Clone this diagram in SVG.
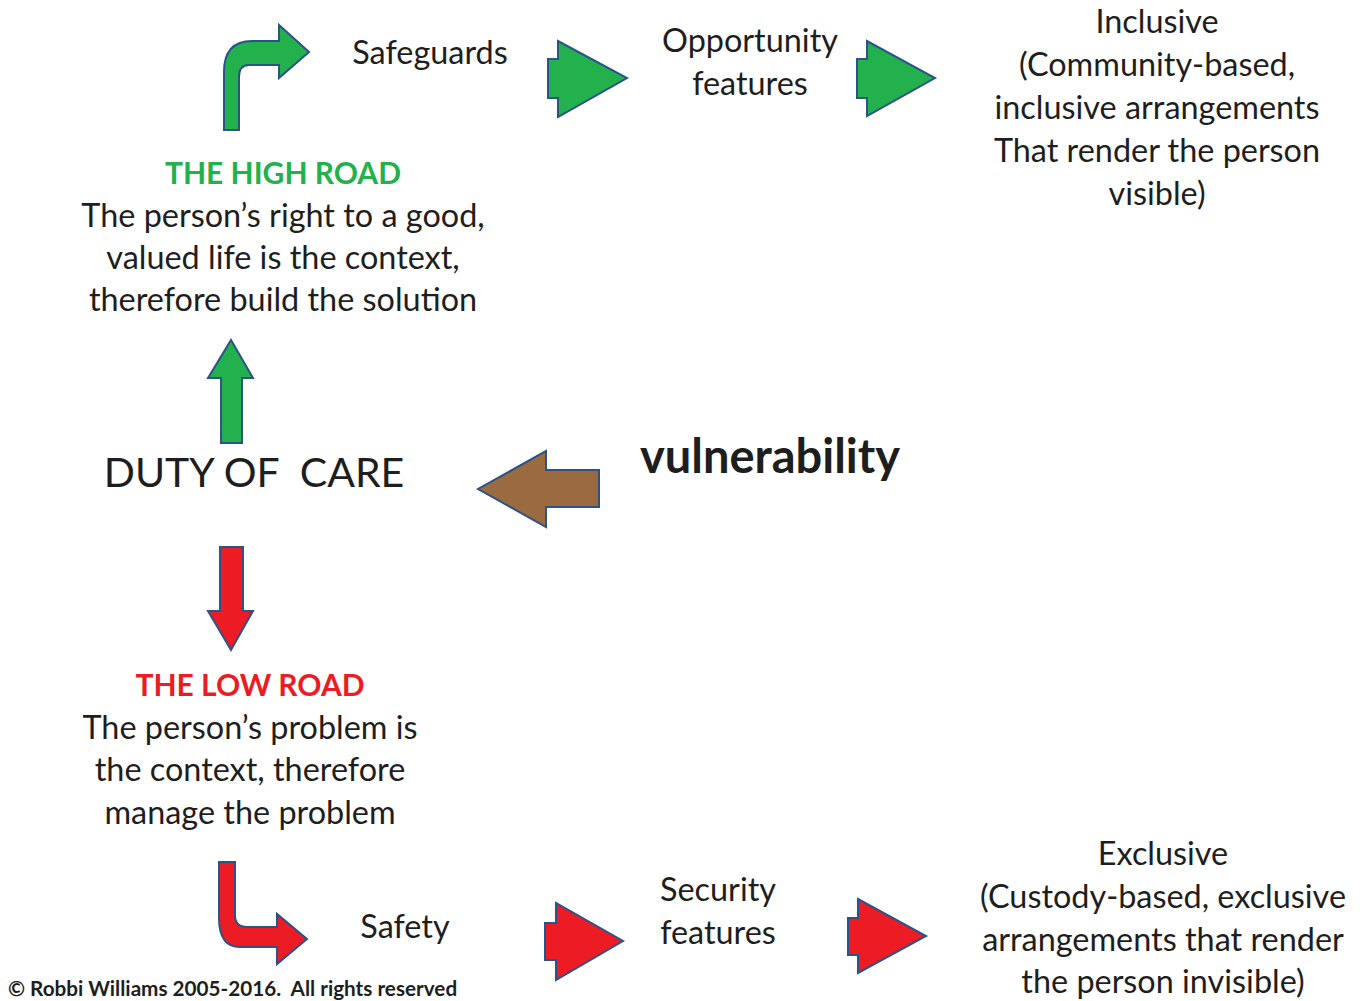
<svg xmlns="http://www.w3.org/2000/svg" width="1365" height="1001" viewBox="0 0 1365 1001">
  <style>
    .t { font-family: Lato, "Open Sans", "Liberation Sans", sans-serif; font-size: 32.4px; fill: #1e1e1e; text-anchor: middle; }
    .hd { font-family: Lato, "Open Sans", "Liberation Sans", sans-serif; font-size: 30px; font-weight: bold; text-anchor: middle; }
    .green { fill: #22B14C; stroke: #2B5388; stroke-width: 2; stroke-linejoin: miter; }
    .red { fill: #ED1C24; stroke: #2B5388; stroke-width: 2; stroke-linejoin: miter; }
    .brown { fill: #9A6A40; stroke: #2B5388; stroke-width: 2; stroke-linejoin: miter; }
  </style>
  <rect width="1365" height="1001" fill="#ffffff"/>

  <!-- connectors: block arrows -->
  <g id="connectors">
    <!-- bent arrow up-right toward Safeguards -->
    <path class="green" d="M224,130 L224,72 Q224,41 252,41 L279,41 L279,25 L309,52 L279,78 L279,65 L249,65 Q239,65 239,77 L239,130 Z"/>
    <!-- Safeguards to Opportunity features -->
    <path class="green" d="M548,59 L558,59 L558,41 L627,78 L558,117 L558,98 L548,98 Z"/>
    <!-- Opportunity features to Inclusive -->
    <path class="green" d="M857,59 L867,59 L867,41 L935,78 L867,116 L867,98 L857,98 Z"/>
    <!-- Duty of care up to the high road -->
    <path class="green" d="M221,443 L221,378 L208,378 L231,340 L253,378 L242,378 L242,443 Z"/>
    <!-- vulnerability into duty of care -->
    <path class="brown" d="M599,470 L546,470 L546,451 L478,489 L546,527 L546,507 L599,507 Z"/>
    <!-- Duty of care down to the low road -->
    <path class="red" d="M220,547 L243,547 L243,611 L253,611 L231,650 L208,611 L220,611 Z"/>
    <!-- bent arrow down-right toward Safety -->
    <path class="red" d="M219,862 L235,862 L235,915 Q235,927 247,927 L277,927 L277,914 L307,939 L277,964 L277,947 L240,947 Q219,947 219,918 Z"/>
    <!-- Safety to Security features -->
    <path class="red" d="M545,923 L556,923 L556,903 L623,941 L556,980 L556,960 L545,960 Z"/>
    <!-- Security features to Exclusive -->
    <path class="red" d="M848,918 L858,918 L858,899 L926,936 L858,973 L858,955 L848,955 Z"/>
  </g>

  <g id="safeguards">
    <text class="t" x="430" y="64">Safeguards</text>
  </g>
  <g id="opportunity-features">
    <text class="t" x="750" y="52">Opportunity</text>
    <text class="t" x="750" y="95">features</text>
  </g>
  <g id="inclusive">
    <text class="t" x="1157" y="33">Inclusive</text>
    <text class="t" x="1157" y="76">(Community-based,</text>
    <text class="t" x="1157" y="119">inclusive arrangements</text>
    <text class="t" x="1157" y="162">That render the person</text>
    <text class="t" x="1157" y="205">visible)</text>
  </g>
  <g id="high-road">
    <text class="hd" x="283" y="184" fill="#22B14C">THE HIGH ROAD</text>
    <text class="t" x="283" y="227">The person’s right to a good,</text>
    <text class="t" x="283" y="269">valued life is the context,</text>
    <text class="t" x="283" y="311">therefore build the solution</text>
  </g>
  <g id="duty-of-care">
    <text x="254" y="487" style="font-family: Lato, 'Open Sans', 'Liberation Sans', sans-serif; font-size: 41px; fill: #1e1e1e; text-anchor: middle; white-space: pre;">DUTY OF  CARE</text>
  </g>
  <g id="vulnerability">
    <text x="770" y="473" style="font-family: Lato, 'Open Sans', 'Liberation Sans', sans-serif; font-size: 47px; font-weight: bold; fill: #1e1e1e; text-anchor: middle;">vulnerability</text>
  </g>
  <g id="low-road">
    <text class="hd" x="250" y="696" fill="#ED1C24">THE LOW ROAD</text>
    <text class="t" x="250" y="739">The person’s problem is</text>
    <text class="t" x="250" y="781">the context, therefore</text>
    <text class="t" x="250" y="824">manage the problem</text>
  </g>
  <g id="safety">
    <text class="t" x="405" y="938">Safety</text>
  </g>
  <g id="security-features">
    <text class="t" x="718" y="901">Security</text>
    <text class="t" x="718" y="944">features</text>
  </g>
  <g id="exclusive">
    <text class="t" x="1163" y="865">Exclusive</text>
    <text class="t" x="1163" y="908">(Custody-based, exclusive</text>
    <text class="t" x="1163" y="951">arrangements that render</text>
    <text class="t" x="1163" y="993">the person invisible)</text>
  </g>
  <g id="copyright">
    <text x="8" y="996" style="font-family: Lato, 'Open Sans', 'Liberation Sans', sans-serif; font-size: 20.7px; font-weight: bold; fill: #1e1e1e; white-space: pre;">© Robbi Williams 2005-2016.  All rights reserved</text>
  </g>
</svg>
